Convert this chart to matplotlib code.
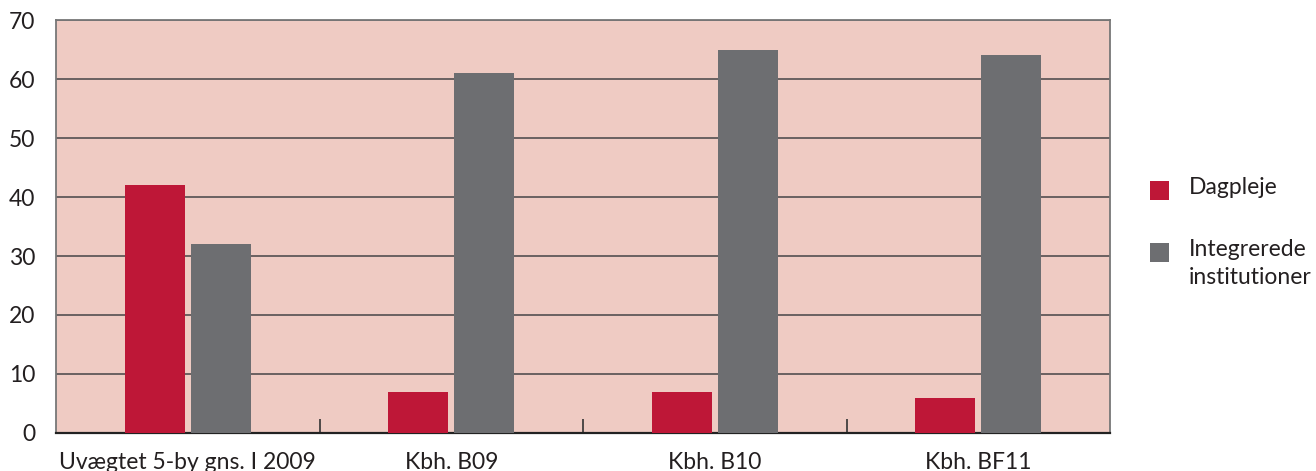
import numpy as np
from matplotlib import pyplot as plt
from matplotlib.patches import Rectangle
from matplotlib.ticker import FixedLocator

plt.rcParams['font.family'] = ['Lato', 'DejaVu Sans']

# ==============================================================================
# Data
categories = ['Uvægtet 5-by gns. I 2009', 'Kbh. B09', 'Kbh. B10', 'Kbh. BF11']
dagpleje = [42, 7, 7, 6]
integrerede = [32, 61, 65, 64]
series_labels = ['Dagpleje', 'Integrerede\ninstitutioner']
y_ticks = [0, 10, 20, 30, 40, 50, 60, 70]
# ==============================================================================

red = '#BE1737'
grey = '#6D6E71'
bg = '#EFCBC3'
line_col = '#5F5859'
text_col = '#231F20'

W, H = 1316, 471
fig = plt.figure(figsize=(W / 100, H / 100), dpi=100)
ax = fig.add_axes([0.0426, 0.0807, 0.8009, 0.8768])
ax.set_facecolor(bg)

x = np.arange(len(categories))
w = 0.228
ax.bar(x - 0.125, dagpleje, width=w, color=red, zorder=3)
ax.bar(x + 0.125, integrerede, width=w, color=grey, zorder=3)

ax.set_xlim(-0.5, len(categories) - 0.5)
ax.set_ylim(0, 70)
ax.set_yticks(y_ticks)
ax.yaxis.grid(True, color=line_col, linewidth=1.3, zorder=1)
ax.set_axisbelow(True)

ax.set_xticks(x)
ax.set_xticklabels(categories)
ax.xaxis.set_minor_locator(FixedLocator(x[:-1] + 0.5))
ax.tick_params(axis='x', which='major', length=0, pad=14, labelsize=16.5, labelcolor=text_col)
ax.tick_params(axis='x', which='minor', direction='in', length=10, width=1.2, color='#333333')
ax.tick_params(axis='y', length=0, pad=15, labelsize=16.5, labelcolor=text_col)

for side in ['left', 'top', 'right']:
    ax.spines[side].set_color('#777777')
    ax.spines[side].set_linewidth(1.3)
ax.spines['bottom'].set_color('#222222')
ax.spines['bottom'].set_linewidth(1.6)

# legend drawn by hand so the two-line label sits top-aligned with its square
legend_rows = [(red, series_labels[0], 181), (grey, series_labels[1], 243)]
for col, label, top in legend_rows:
    fig.add_artist(Rectangle((1150 / W, 1 - (top + 19) / H), 19 / W, 19 / H,
                             transform=fig.transFigure, color=col, lw=0))
    fig.text(1189 / W, 1 - (top - 4) / H, label, transform=fig.transFigure,
             fontsize=16.5, color=text_col, va='top', ha='left', linespacing=1.4)

fig.savefig('out.png', dpi=100)
